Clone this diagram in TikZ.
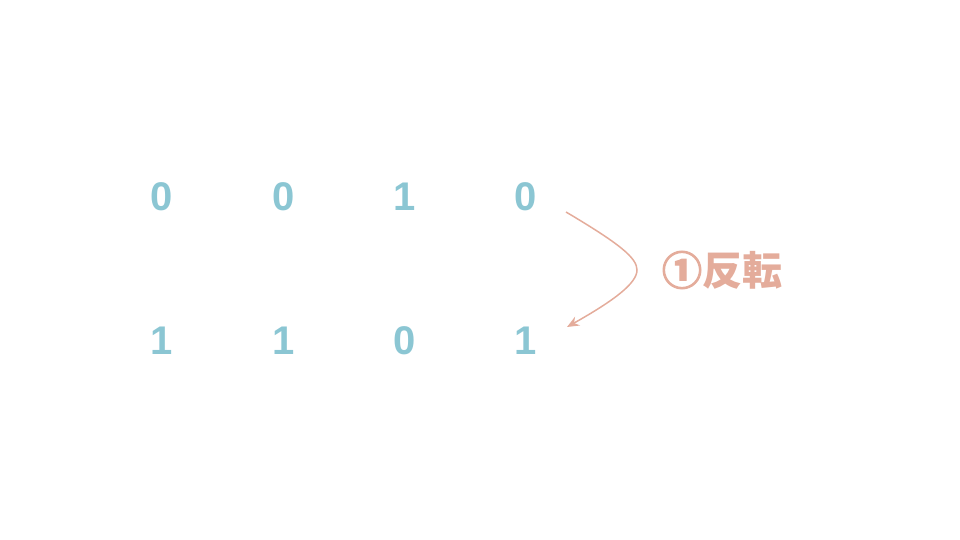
\documentclass[tikz,border=0pt]{standalone}
\usepackage{fontspec}
\setmainfont{Liberation Sans}
\newfontfamily\cjk{Noto Sans CJK JP}
\newfontfamily\cjkcirc[FakeBold=2.5]{Noto Sans CJK JP Bold}
\usetikzlibrary{arrows.meta}
\definecolor{digitc}{RGB}{139,198,211}
\definecolor{salmon}{RGB}{228,172,155}
\begin{document}
\begin{tikzpicture}[x=1pt,y=-1pt,
  digit/.style={text=digitc,font=\fontsize{40}{40}\selectfont\bfseries,inner sep=0pt},
  lbl/.style={text=salmon,font=\cjk\fontsize{40}{40}\selectfont\bfseries,inner sep=0pt},
  conn/.style={draw=salmon,line width=1.5pt,-{Stealth[length=12pt,width=10pt]}}]
\useasboundingbox (0,0) rectangle (960,540);
\node[digit] (a1) at (162,197) {0};
\node[digit] (a2) at (284,197) {0};
\node[digit] (a3) at (405,197) {1};
\node[digit] (a4) at (526,197) {0};
\node[digit] (b1) at (162,341) {1};
\node[digit] (b2) at (284,341) {1};
\node[digit] (b3) at (405,341) {0};
\node[digit] (b4) at (526,341) {1};
\node[lbl] (l) at (722,270) {{\cjkcirc ①}反転};
\coordinate (s) at (566,212);
\coordinate (m) at (637,270);
\coordinate (e) at (567,327);
\draw[conn] (s) .. controls (620,244) and (637,258) .. (m) .. controls (637,283) and (615,300) .. (e);
\end{tikzpicture}
\end{document}
